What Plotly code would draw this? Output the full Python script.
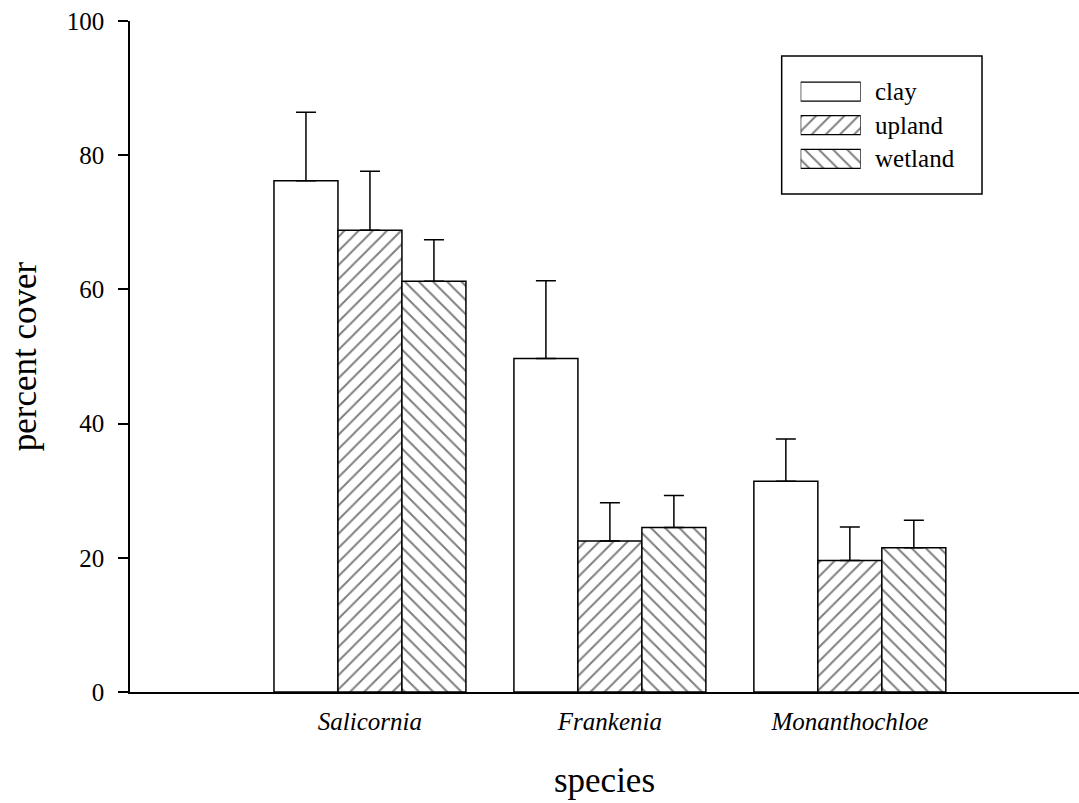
import plotly.graph_objects as go

# Mean percent cover by species and soil type, with upper standard-error bars
species = ["Salicornia", "Frankenia", "Monanthochloe"]
soil_types = ["clay", "upland", "wetland"]

clay_cover = [76.2, 49.7, 31.4]
clay_err = [10.2, 11.6, 6.3]
upland_cover = [68.8, 22.5, 19.6]
upland_err = [8.8, 5.7, 5.0]
wetland_cover = [61.2, 24.5, 21.5]
wetland_err = [6.2, 4.8, 4.1]

y_ticks = [0, 20, 40, 60, 80, 100]

SERIF = "Liberation Serif, Times New Roman, serif"
hatch = {"clay": "", "upland": "/", "wetland": "\\"}

series = [
    ("clay", clay_cover, clay_err),
    ("upland", upland_cover, upland_err),
    ("wetland", wetland_cover, wetland_err),
]


def hatch_marker(name, edge):
    return dict(
        color="white",
        line=dict(color="black", width=edge),
        pattern=dict(shape=hatch[name], fgcolor="black", bgcolor="white",
                     size=10, solidity=0.2),
    )


fig = go.Figure()

for name, vals, errs in series:
    fig.add_trace(go.Bar(
        name=name,
        x=[f"<i>{s}</i>" for s in species],
        y=vals,
        marker=hatch_marker(name, 1.5),
        error_y=dict(type="data", symmetric=False, array=errs,
                     arrayminus=[0] * len(errs), color="black",
                     thickness=1.5, width=10),
        showlegend=False,
    ))

# Key: a small inset axis holding one horizontal swatch bar per soil type
key_rows = [2, 1, 0]
for name, row in zip(soil_types, key_rows):
    fig.add_trace(go.Bar(
        x=[1], y=[row], base=0, orientation="h", width=0.565,
        xaxis="x2", yaxis="y2", showlegend=False, hoverinfo="skip",
        marker=hatch_marker(name, 1.2),
    ))

fig.update_layout(
    width=1079, height=803,
    margin=dict(l=130, r=0, t=21, b=111),
    paper_bgcolor="white", plot_bgcolor="white",
    barmode="group", bargap=0.2, bargroupgap=0,
    font=dict(family=SERIF, color="black"),
    xaxis=dict(
        type="category",
        range=[-1, 2.955],
        showline=True, linecolor="black", linewidth=1.5,
        showgrid=False, ticks="",
        ticklabelstandoff=6,
        tickfont=dict(size=25, family=SERIF),
        title=dict(text="species", font=dict(size=35, family=SERIF), standoff=34),
    ),
    yaxis=dict(
        range=[0, 100],
        tickvals=y_ticks,
        showline=True, linecolor="black", linewidth=1.5,
        showgrid=False, zeroline=False,
        ticks="outside", ticklen=10, tickwidth=1.5, tickcolor="black",
        ticklabelstandoff=9,
        tickfont=dict(size=25, family=SERIF),
        title=dict(text="percent cover", font=dict(size=35, family=SERIF), standoff=20),
    ),
    xaxis2=dict(domain=[0.7067, 0.7700], range=[0, 1], anchor="y2",
                visible=False, fixedrange=True),
    yaxis2=dict(domain=[0.7695, 0.9199], range=[-0.5, 2.5], anchor="x2",
                visible=False, fixedrange=True),
    showlegend=False,
)

# Key frame and labels
fig.add_shape(type="rect", xref="paper", yref="paper",
              x0=0.6867, x1=0.8978, y0=0.742, y1=0.948,
              line=dict(color="black", width=1.5), fillcolor="rgba(0,0,0,0)",
              layer="below")
label_y = [0.895, 0.8447, 0.7948]
for name, yy in zip(soil_types, label_y):
    fig.add_annotation(text=name, xref="paper", yref="paper",
                       x=0.783, y=yy, xanchor="left", yanchor="middle",
                       showarrow=False, font=dict(size=25, family=SERIF))

fig.write_html("out.html")
